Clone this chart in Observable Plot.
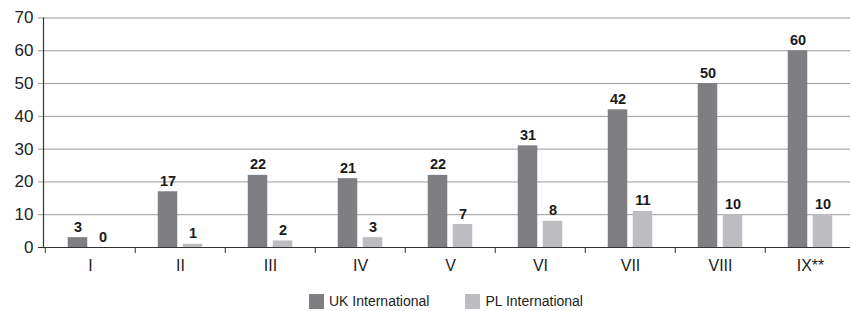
<!DOCTYPE html>
<html><head><meta charset="utf-8">
<script src="https://cdn.jsdelivr.net/npm/d3@7"></script>
<script src="https://cdn.jsdelivr.net/npm/@observablehq/plot@0.6"></script>
<style>
body{margin:0;background:#fff;font-family:"Liberation Sans",Arial,sans-serif;}
#legend{display:flex;align-items:center;padding-left:309px;padding-top:6px;font-size:14px;color:#222;}
.item{display:flex;align-items:center;}
.sw{width:15px;height:15px;margin-right:5px;}
</style></head>
<body>
<div id="chart"></div>
<div id="legend"></div>
<script>
const categories = ["I","II","III","IV","V","VI","VII","VIII","IX**"];
const ukValues = [3,17,22,21,22,31,42,50,60];
const plValues = [0,1,2,3,7,8,11,10,10];
const seriesNames = ["UK International","PL International"];
const seriesColors = ["#7e7e83","#bdbdc1"];
const yTicks = [0,10,20,30,40,50,60,70];

const W = 851, H = 287, mL = 43, mR = 1, mT = 17.5, mB = 40;
const bw = 90.5;
const uk = categories.map((c,i)=>({cat:c, v:ukValues[i]}));
const pl = categories.map((c,i)=>({cat:c, v:plValues[i]}));
const barW = 20, gap = 5, outer = (bw - 2*barW - gap)/2;

const chart = Plot.plot({
  width: W, height: H,
  marginLeft: mL, marginRight: mR, marginTop: mT, marginBottom: mB,
  style: {fontFamily: '"Liberation Sans", Arial, sans-serif', fontSize: "16px", color: "#222", background: "#fff"},
  x: {domain: categories, padding: 0, label: null, range: [mL, mL + bw * categories.length]},
  y: {domain: [0,70], label: null},
  marks: [
    Plot.ruleY(yTicks.filter(d=>d>0), {stroke: "#9a9a9a", strokeWidth: 1, insetLeft: -5}),
    Plot.barY(uk, {x: "cat", y: "v", fill: seriesColors[0], insetLeft: outer, insetRight: bw - outer - barW}),
    Plot.barY(pl, {x: "cat", y: "v", fill: seriesColors[1], insetLeft: outer + barW + gap, insetRight: outer}),
    Plot.text(uk, {x: "cat", y: "v", text: d=>String(d.v), dx: -(barW+gap)/2, dy: -6, lineAnchor: "bottom", fontWeight: "bold", fontSize: 14.5, fill: "#1a1a1a"}),
    Plot.text(pl, {x: "cat", y: "v", text: d=>String(d.v), dx: (barW+gap)/2, dy: -6, lineAnchor: "bottom", fontWeight: "bold", fontSize: 14.5, fill: "#1a1a1a"}),
    Plot.ruleX(categories, {x: d=>d, y1: 0, y2: 0, dx: -bw/2, insetBottom: -6, stroke: "#333"}),
    Plot.ruleY([0], {stroke: "#333", strokeWidth: 1.2, insetLeft: -5}),
    Plot.frame({anchor: "left", stroke: "#333", strokeWidth: 1.2}),
    Plot.axisY({ticks: yTicks, tickSize: 0, tickPadding: 10, fontSize: 17}),
    Plot.axisX({tickSize: 0, tickPadding: 12, fontSize: 16})
  ]
});
document.getElementById("chart").append(chart);

const lg = document.getElementById("legend");
seriesNames.forEach((n,i)=>{
  const it = document.createElement("div"); it.className = "item";
  if (i>0) it.style.marginLeft = "36px";
  const sw = document.createElement("div"); sw.className = "sw"; sw.style.background = seriesColors[i];
  const t = document.createElement("span"); t.textContent = n;
  it.append(sw, t); lg.append(it);
});
</script>
</body></html>
